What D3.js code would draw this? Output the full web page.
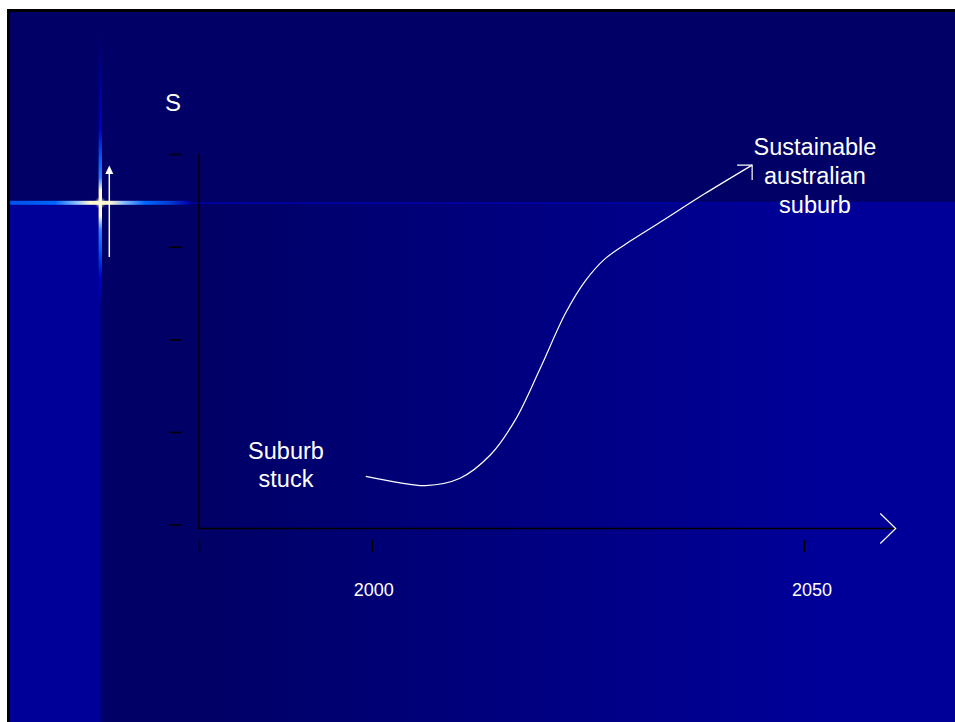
<!DOCTYPE html>
<html>
<head>
<meta charset="utf-8">
<script src="https://cdn.jsdelivr.net/npm/d3@7"></script>
<style>
  html, body { margin: 0; padding: 0; background: #ffffff; }
  svg { display: block; }
  text { font-family: "Liberation Sans", Arial, Helvetica, sans-serif; fill: #ffffff; }
</style>
</head>
<body>
<svg id="chart" width="955" height="722"></svg>
<script>
// ---------- data ----------
const xTickYears  = [1980, 2000, 2050];
const xTickLabels = ["", "2000", "2050"];
const yTicks      = [0, 1, 2, 3, 4];
const yAxisTitle  = "S";
const curveYears  = [1999.3, 2003.3, 2006.2, 2010.2, 2013.7, 2016.6, 2019.5, 2022.4, 2024.7, 2027.0, 2029.9, 2033.3, 2038.5, 2044.0];
const curveValues = [0.52,   0.45,   0.42,   0.50,   0.75,   1.13,   1.69,   2.28,   2.63,   2.87,   3.06,   3.26,   3.57,   3.88];
const startLabel  = ["Suburb", "stuck"];
const endLabel    = ["Sustainable", "australian", "suburb"];

// ---------- setup ----------
const svg = d3.select("#chart");
const defs = svg.append("defs");

const x = d3.scaleLinear().domain([1980, 2050]).range([199, 804]);
const y = d3.scaleLinear().domain([0, 4]).range([524.5, 154]);

// ---------- background ----------
const DARK = "#000066", BRIGHT = "#000099";
svg.append("rect").attr("x", 7).attr("y", 9).attr("width", 948).attr("height", 713).attr("fill", "#000000");
svg.append("rect").attr("x", 10).attr("y", 12).attr("width", 945).attr("height", 710).attr("fill", DARK);

const lowGrad = defs.append("linearGradient").attr("id", "lowGrad")
  .attr("x1", "0%").attr("y1", "0%").attr("x2", "100%").attr("y2", "0%");
lowGrad.append("stop").attr("offset", "0%").attr("stop-color", DARK);
lowGrad.append("stop").attr("offset", "12%").attr("stop-color", DARK);
lowGrad.append("stop").attr("offset", "85%").attr("stop-color", BRIGHT);
lowGrad.append("stop").attr("offset", "100%").attr("stop-color", BRIGHT);
svg.append("rect").attr("x", 100).attr("y", 203).attr("width", 855).attr("height", 519).attr("fill", "url(#lowGrad)");
svg.append("rect").attr("x", 10).attr("y", 203).attr("width", 90).attr("height", 519).attr("fill", BRIGHT);
// boundary highlight lines
svg.append("rect").attr("x", 10).attr("y", 202).attr("width", 945).attr("height", 2).attr("fill", "#00009c");
svg.append("rect").attr("x", 99.5).attr("y", 203).attr("width", 1.2).attr("height", 519).attr("fill", "#0000a0");

// lens flare
const hGrad = defs.append("linearGradient").attr("id", "hGrad")
  .attr("gradientUnits", "userSpaceOnUse").attr("x1", 10).attr("y1", 0).attr("x2", 190).attr("y2", 0);
[[10, "#0050e8"], [55, "#0066ff"], [76, "#88bbff"], [90, "#fff8d0"], [110, "#fff8d0"], [124, "#88bbff"], [145, "#0066ff"], [168, "#0040d8"], [190, "#0000a8"]]
  .forEach(([p, c]) => hGrad.append("stop").attr("offset", ((p - 10) / 180)).attr("stop-color", c));
svg.append("rect").attr("x", 10).attr("y", 200.8).attr("width", 180).attr("height", 4).attr("fill", "url(#hGrad)");

const vGrad = defs.append("linearGradient").attr("id", "vGrad")
  .attr("gradientUnits", "userSpaceOnUse").attr("x1", 0).attr("y1", 30).attr("x2", 0).attr("y2", 300);
[[30, DARK], [70, "#00008a"], [130, "#0000c0"], [160, "#0060f8"], [178, "#3080ff"], [190, "#fff8d0"], [216, "#fff8d0"], [230, "#3080ff"], [248, "#0060f8"], [278, "#0000c0"], [300, BRIGHT]]
  .forEach(([p, c]) => vGrad.append("stop").attr("offset", ((p - 30) / 270)).attr("stop-color", c));
svg.append("rect").attr("x", 98.6).attr("y", 30).attr("width", 3.4).attr("height", 270).attr("fill", "url(#vGrad)");

const glow = defs.append("radialGradient").attr("id", "glow");
glow.append("stop").attr("offset", "0%").attr("stop-color", "#ffffee").attr("stop-opacity", 1);
glow.append("stop").attr("offset", "50%").attr("stop-color", "#fff8d0").attr("stop-opacity", 0.5);
glow.append("stop").attr("offset", "100%").attr("stop-color", "#fff8d0").attr("stop-opacity", 0);
svg.append("circle").attr("cx", 100.3).attr("cy", 202.7).attr("r", 6).attr("fill", "url(#glow)");

// decorative white up-arrow
svg.append("line").attr("x1", 109.3).attr("y1", 257).attr("x2", 109.3).attr("y2", 172)
  .attr("stroke", "#ffffff").attr("stroke-width", 1.5);
svg.append("path").attr("d", "M109.3,165.5 L113.3,174 L105.3,174 Z").attr("fill", "#ffffff");

// ---------- axes ----------
const yAx = svg.append("g").attr("transform", "translate(182,0)")
  .call(d3.axisLeft(y).tickValues(yTicks).tickSize(13).tickFormat(""));
yAx.select(".domain").remove();
yAx.selectAll(".tick line").attr("stroke", "#000000").attr("stroke-width", 1.5);

const xAx = svg.append("g").attr("transform", "translate(0,540)")
  .call(d3.axisBottom(x).tickValues(xTickYears).tickSize(12).tickFormat(""));
xAx.select(".domain").remove();
xAx.selectAll(".tick line").attr("stroke", "#000000").attr("stroke-width", 1.5);

const x0 = x.range()[0];
const baseY = y.range()[0] + 4;
svg.append("line").attr("x1", x0).attr("y1", y.range()[1]).attr("x2", x0).attr("y2", baseY)
  .attr("stroke", "#000000").attr("stroke-width", 1.5);
svg.append("line").attr("x1", x0 - 1).attr("y1", baseY).attr("x2", 895.5).attr("y2", baseY)
  .attr("stroke", "#000000").attr("stroke-width", 1.5);
svg.append("path").attr("d", `M880.3,${baseY - 15} L895.7,${baseY} L880.3,${baseY + 15}`)
  .attr("fill", "none").attr("stroke", "#ffffff").attr("stroke-width", 1.2);

const labelNudge = { "2000": 2, "2050": 8 };
svg.append("g").selectAll("text").data(xTickYears.map((v, i) => ({ v, t: xTickLabels[i] })).filter(d => d.t))
  .join("text")
  .attr("x", d => x(d.v) + (labelNudge[d.t] || 0))
  .attr("y", 596)
  .attr("text-anchor", "middle")
  .attr("font-size", "18px")
  .text(d => d.t);

svg.append("text").attr("x", 173).attr("y", 110.5).attr("text-anchor", "middle")
  .attr("font-size", "24px").text(yAxisTitle);

// ---------- curve ----------
const pts = curveYears.map((yr, i) => [x(yr), y(curveValues[i])]);
const line = d3.line().curve(d3.curveCatmullRom.alpha(0.5));
svg.append("path").attr("d", line(pts))
  .attr("fill", "none").attr("stroke", "#ffffff").attr("stroke-width", 1.2);
const tip = pts[pts.length - 1];
svg.append("path").attr("d", `M${tip[0] - 15},${tip[1]} L${tip[0]},${tip[1]} L${tip[0]},${tip[1] + 15}`)
  .attr("fill", "none").attr("stroke", "#ffffff").attr("stroke-width", 1.2);

// ---------- annotations ----------
svg.append("text").attr("text-anchor", "middle").attr("font-size", "23.5px")
  .selectAll("tspan").data(startLabel).join("tspan")
  .attr("x", 286).attr("y", (d, i) => 459 + i * 28).text(d => d);

svg.append("text").attr("text-anchor", "middle").attr("font-size", "23.5px")
  .selectAll("tspan").data(endLabel).join("tspan")
  .attr("x", 815).attr("y", (d, i) => 155 + i * 29).text(d => d);
</script>
</body>
</html>
